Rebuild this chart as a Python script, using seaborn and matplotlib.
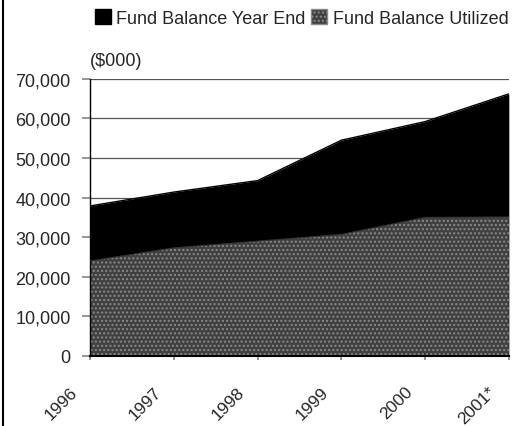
import matplotlib
matplotlib.use("Agg")
import matplotlib.pyplot as plt
import matplotlib.transforms as mtransforms
import seaborn as sns
import pandas as pd
from matplotlib.patches import Patch
from matplotlib.lines import Line2D

years = ["1996", "1997", "1998", "1999", "2000", "2001*"]
year_end = [37900, 41400, 44300, 54500, 59200, 66200]
utilized = [24000, 27300, 29000, 30700, 35000, 35100]
yticks = [0, 10000, 20000, 30000, 40000, 50000, 60000, 70000]

sns.set_theme(style="white")
plt.rcParams['font.family'] = ['Liberation Sans', 'DejaVu Sans']

df = pd.DataFrame({"x": range(len(years)), "year_end": year_end, "utilized": utilized})

fig = plt.figure(figsize=(5.15, 4.27), dpi=100)
ax = fig.add_axes([0.175, 0.164, 0.813, 0.649])

for v in yticks[1:]:
    ax.axhline(v, color="#555555", lw=0.9, zorder=0)

ax.fill_between(df["x"], 0, df["year_end"], color="black", lw=0, zorder=1)
ax.fill_between(df["x"], 0, df["utilized"], facecolor="#404040", edgecolor="#8a8a8a",
                hatch="....", lw=0, zorder=2)
sns.lineplot(data=df, x="x", y="year_end", ax=ax, color="black", lw=1, zorder=3)
sns.lineplot(data=df, x="x", y="utilized", ax=ax, color="#333333", lw=0.8, zorder=3)

ax.set_xlim(0, len(years) - 1)
ax.set_ylim(0, 70000)
ax.set_yticks(yticks)
ax.set_yticklabels([f"{v:,}" for v in yticks], fontsize=13)
ax.set_xticks(range(len(years)))
ax.set_xticklabels(years, rotation=45, fontsize=12.5, ha="right", va="top")
ax.tick_params(axis="x", pad=17, length=3, direction="out", bottom=True, color="#888888")
ax.tick_params(axis="y", length=6, direction="out", left=True, color="#888888", pad=8)
offset = mtransforms.ScaledTranslation(-10 / 100, 0, fig.dpi_scale_trans)
for tick in ax.xaxis.get_major_ticks():
    tick.label1.set_transform(tick.label1.get_transform() + offset)
ax.set_xlabel("")
ax.set_ylabel("")
for s in ["top", "right"]:
    ax.spines[s].set_visible(False)
ax.spines["left"].set_color("black")
ax.spines["left"].set_linewidth(1)
ax.spines["bottom"].set_color("black")
ax.spines["bottom"].set_linewidth(1.5)
ax.spines["bottom"].set_zorder(4)

ax.text(0.0, 1.035, "($000)", transform=ax.transAxes, fontsize=13, ha="left", va="bottom")

handles = [Patch(facecolor="black", edgecolor="black"),
           Patch(facecolor="#404040", edgecolor="#8a8a8a", hatch="....")]
fig.legend(handles, ["Fund Balance Year End", "Fund Balance Utilized"],
           loc="center left", bbox_to_anchor=(0.170, 0.955), ncol=2, frameon=False,
           fontsize=13, handlelength=0.9, handleheight=0.9, handletextpad=0.3,
           columnspacing=0.3, borderaxespad=0)

fig.add_artist(Line2D([0.005, 0.005], [0, 1], transform=fig.transFigure, color="black", lw=1.5))

fig.savefig("out.png", dpi=100)
